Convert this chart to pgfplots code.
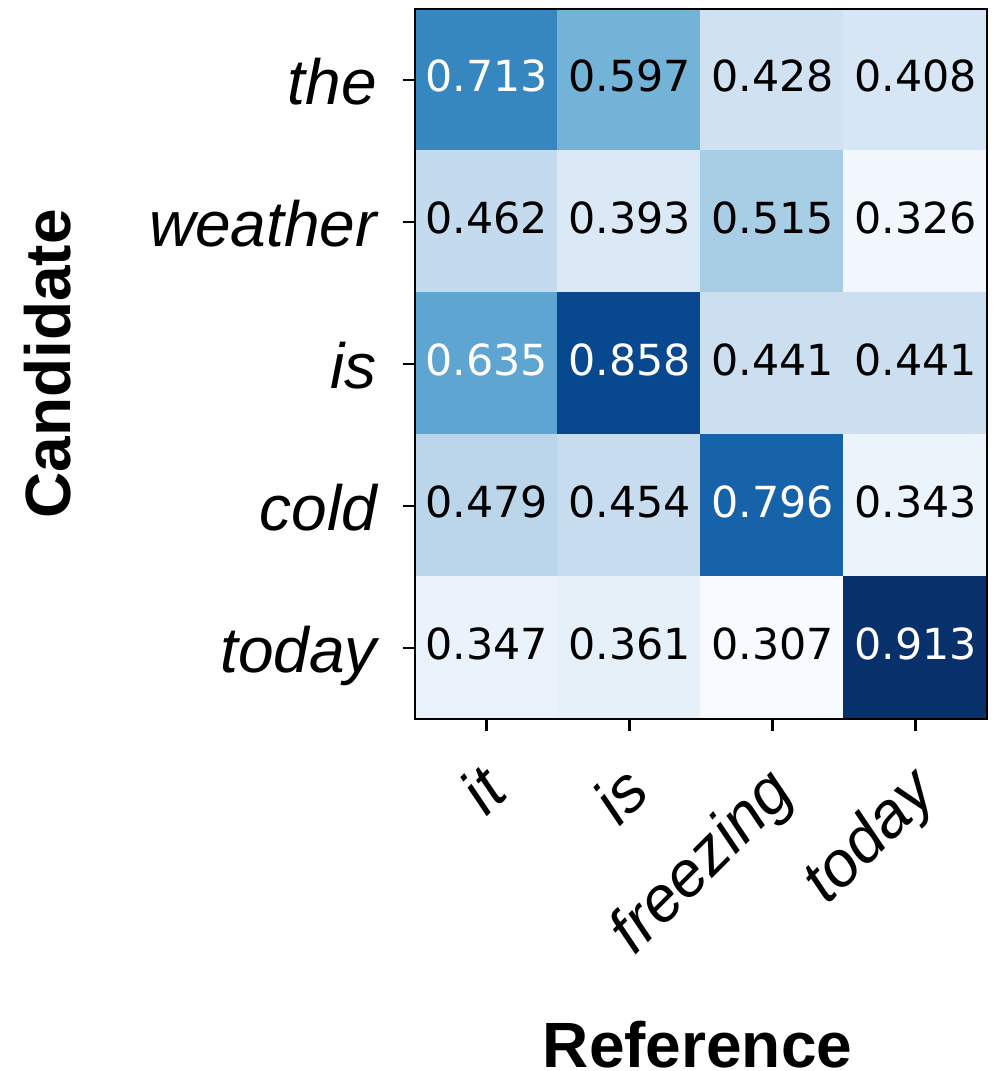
\documentclass[border=0pt]{standalone}
\usepackage{pgfplots}
\pgfplotsset{compat=1.18}
\usepackage{pgfplotstable}
\usepackage{fontspec}
\setmainfont{Liberation Sans}
\newfontfamily\dejavu{DejaVu Sans}

% similarity matrix, row = candidate token, col = reference token
\pgfplotstableread{
x y v
0 0 0.713
1 0 0.597
2 0 0.428
3 0 0.408
0 1 0.462
1 1 0.393
2 1 0.515
3 1 0.326
0 2 0.635
1 2 0.858
2 2 0.441
3 2 0.441
0 3 0.479
1 3 0.454
2 3 0.796
3 3 0.343
0 4 0.347
1 4 0.361
2 4 0.307
3 4 0.913
}\cells

% labels on dark cells (white text)
\pgfplotstableread{
x y lab
0 0 0.713
0 2 0.635
1 2 0.858
2 3 0.796
3 4 0.913
}\darkcells

% labels on light cells (black text)
\pgfplotstableread{
x y lab
1 0 0.597
2 0 0.428
3 0 0.408
0 1 0.462
1 1 0.393
2 1 0.515
3 1 0.326
2 2 0.441
3 2 0.441
0 3 0.479
1 3 0.454
3 3 0.343
0 4 0.347
1 4 0.361
2 4 0.307
}\lightcells

\begin{document}
\begin{tikzpicture}
\begin{axis}[
  name=ax,
  scale only axis,
  width=143pt, height=177.5pt,
  xmin=-0.5, xmax=3.5, ymin=-0.5, ymax=4.5,
  y dir=reverse,
  axis on top,
  colormap={blues}{rgb255=(247,251,255) rgb255=(222,235,247) rgb255=(198,219,239)
    rgb255=(158,202,225) rgb255=(107,174,214) rgb255=(66,146,198)
    rgb255=(33,113,181) rgb255=(8,81,156) rgb255=(8,48,107)},
  point meta min=0.307, point meta max=0.913,
  xtick={0,1,2,3}, xticklabels={it,is,freezing,today},
  ytick={0,1,2,3,4}, yticklabels={the,weather,is,cold,today},
  tick pos=left, tick align=outside,
  major tick length=3pt,
  every tick/.style={black, line width=0.65pt},
  axis line style={line width=0.65pt},
  ticklabel style={font=\fontsize{16}{19}\selectfont\itshape},
  x tick label style={inner sep=0pt, text height=11.7pt, text depth=3.4pt,
    xshift=-2.5pt, yshift=-7.5pt, rotate=45, anchor=north east},
  y tick label style={text height=12pt, text depth=0pt, xshift=-3pt},
  xlabel={Reference}, ylabel={Candidate},
  label style={font=\fontsize{16}{19}\selectfont\bfseries, inner sep=0pt},
  xlabel style={at={(axis description cs:0.494,-0.4915)}, anchor=base},
  ylabel style={at={(axis description cs:-0.603,0.5)}, anchor=base},
]
\addplot[matrix plot*, mesh/cols=4, point meta=explicit] table[meta=v] {\cells};

\addplot[draw=none, mark=none, nodes near coords, point meta=explicit symbolic,
  nodes near coords align=center,
  every node near coord/.append style={anchor=center, yshift=0.9pt, text=white,
    font=\dejavu\fontsize{10.7}{12}\selectfont}]
  table[meta=lab] {\darkcells};

\addplot[draw=none, mark=none, nodes near coords, point meta=explicit symbolic,
  nodes near coords align=center,
  every node near coord/.append style={anchor=center, yshift=0.9pt, text=black,
    font=\dejavu\fontsize{10.7}{12}\selectfont}]
  table[meta=lab] {\lightcells};
\end{axis}
\pgfresetboundingbox
\useasboundingbox ([xshift=-103.75pt,yshift=-88pt]ax.south west)
  rectangle ([xshift=3pt,yshift=2.25pt]ax.north east);
\end{tikzpicture}
\end{document}
